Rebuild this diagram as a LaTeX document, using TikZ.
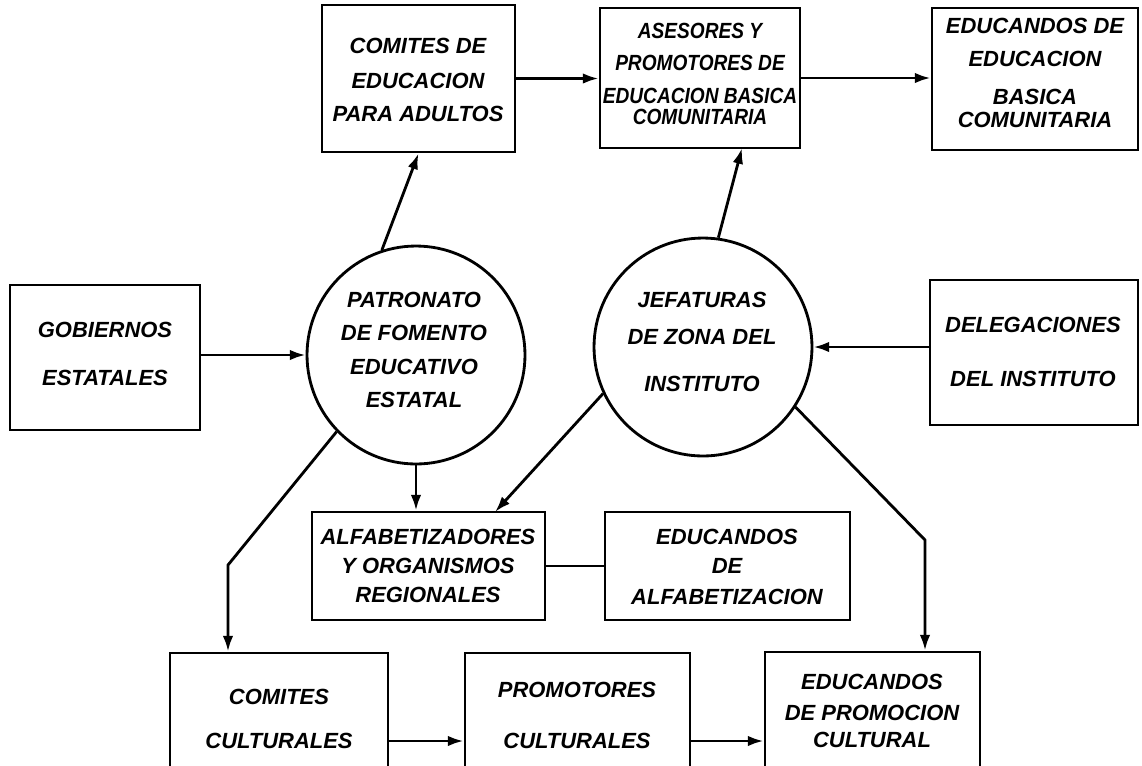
\documentclass[tikz,border=0pt]{standalone}
\usepackage{fontspec}
\setmainfont{Liberation Sans}
\newfontfamily\condfont[FakeStretch=0.87]{Liberation Sans}
\usetikzlibrary{arrows.meta,fit,calc}
\begin{document}
\begin{tikzpicture}[x=0.02cm,y=-0.02cm, line width=1.6pt,
  box/.style={draw, rectangle, inner sep=0pt},
  circ/.style={draw, circle, minimum size=4.36cm, inner sep=0pt},
  txt/.style={align=center, font=\bfseries\itshape\fontsize{12.5}{19}\selectfont, inner sep=0pt},
  arr/.style={-{Latex[length=9pt,width=6pt]}}]
\useasboundingbox (0,0) rectangle (1142,765);
\clip (0,0) rectangle (1142,765);

% boxes
\node[box, fit={(322,5) (515,152)}] (cea) {};
\node[box, fit={(600,8) (800,148)}] (ase) {};
\node[box, fit={(932,8) (1138,150)}] (ebc) {};
\node[box, fit={(10,285) (200,430)}] (gob) {};
\node[circ] (pat) at (416,355) {};
\node[circ] (jef) at (703,347) {};
\node[box, fit={(930,280) (1138,425)}] (del) {};
\node[box, fit={(312,512) (545,620)}] (alf) {};
\node[box, fit={(605,512) (850,620)}] (eda) {};
\node[box, fit={(170,653) (388,790)}] (cc) {};
\node[box, fit={(465,653) (690,790)}] (pc) {};
\node[box, fit={(765,652) (980,790)}] (epc) {};

% texts
\node[txt] (cea-t) at (418,80) {COMITES DE\\[1pt]EDUCACION\\PARA ADULTOS};
\node[txt, font=\condfont\bfseries\itshape\fontsize{12.5}{19}\selectfont] (ase-t) at (700,74) {ASESORES Y\\[-0.5pt]PROMOTORES DE\\[-0.5pt]EDUCACION BASICA\\[-6.6pt]COMUNITARIA};
\node[txt] (ebc-t) at (1035,73) {EDUCANDOS DE\\[-0.2pt]EDUCACION\\[2.5pt]BASICA\\[-5.5pt]COMUNITARIA};
\node[txt] (gob-t) at (105,354) {GOBIERNOS\\[8pt]ESTATALES};
\node[txt] (pat-t) at (414,350) {PATRONATO\\DE FOMENTO\\EDUCATIVO\\ESTATAL};
\node[txt] (jef-t) at (702,342) {JEFATURAS\\[2pt]DE ZONA DEL\\[8pt]INSTITUTO};
\node[txt] (del-t) at (1033,352) {DELEGACIONES\\[12pt]DEL INSTITUTO};
\node[txt] (alf-t) at (428,566) {ALFABETIZADORES\\[-2.5pt]Y ORGANISMOS\\[-2.5pt]REGIONALES};
\node[txt] (eda-t) at (727,567) {EDUCANDOS\\[-2.5pt]DE\\[-1.5pt]ALFABETIZACION};
\node[txt] (cc-t) at (279,719) {COMITES\\[6pt]CULTURALES};
\node[txt] (pc-t) at (577,715) {PROMOTORES\\[10pt]CULTURALES};
\node[txt] (epc-t) at (872,711) {EDUCANDOS\\[-1.5pt]DE PROMOCION\\[-3.7pt]CULTURAL};

% helper coordinates
\coordinate (b1) at (228,565);
\coordinate (b2) at (925,540);
\coordinate (y1) at (0,741);
\coordinate (ajt) at (495,512);
\coordinate (aset) at (742,148);

% connectors
\draw[arr] (cea.east) -- (cea.east -| ase.west);
\draw[arr] (ase.east) -- (ase.east -| ebc.west);
\draw[arr] (pat.west -| gob.east) -- (pat.west);
\draw[arr] (del.west |- jef.east) -- (jef.east);
\draw[arr] (pat.108) -- (cea.south);
\draw[arr] (jef.82) -- (aset);
\draw[arr] (pat.south) -- (pat.south |- alf.north);
\draw[arr] (jef.205) -- (ajt);
\draw[arr] (pat.224) -- (b1) -- (b1 |- cc.north);
\draw[arr] (jef.-33) -- (b2) -- (b2 |- epc.north);
\draw (alf.east) -- (eda.west);
\draw[arr] (cc.east |- y1) -- (pc.west |- y1);
\draw[arr] (pc.east |- y1) -- (epc.west |- y1);
\end{tikzpicture}
\end{document}
